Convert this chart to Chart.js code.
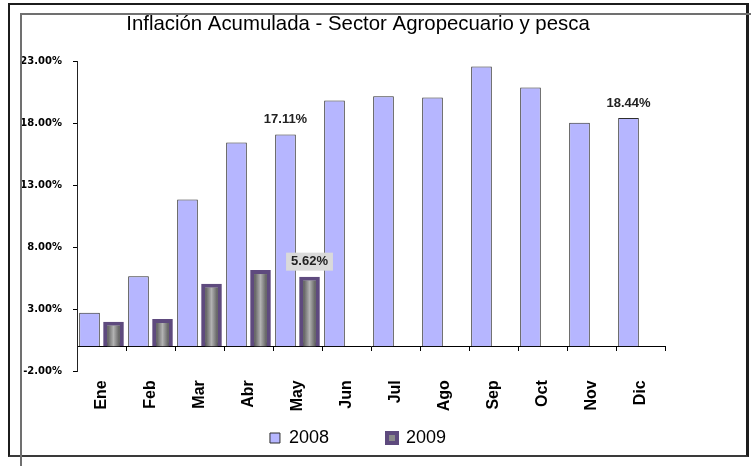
<!DOCTYPE html>
<html lang="es">
<head>
<meta charset="utf-8">
<title>Inflación Acumulada - Sector Agropecuario y pesca</title>
<script src="https://cdn.jsdelivr.net/npm/chart.js@4.4.1/dist/chart.umd.min.js"></script>
<style>
  html, body { margin: 0; padding: 0; background: #fff; }
  .base-graf { position: relative; width: 751px; height: 466px; overflow: hidden; }
  #graficaInflacion { position: absolute; left: 0; top: 0; }
  .marco { position: absolute; box-sizing: border-box; pointer-events: none; }
  .marco-ext { left: 8px; top: 3px; width: 741px; height: 454px; border: 2px solid #1c1c1c; border-right-width: 3px; border-bottom-color: #3a3a3a; }
  .marco-sup { left: 20px; top: 13px; width: 731px; height: 2px; background: #707070; }
  .marco-izq { left: 20px; top: 13px; width: 2px; height: 453px; background: #707070; }
</style>
</head>
<body>
<div class="base-graf">
  <canvas id="graficaInflacion" width="751" height="466"></canvas>
  <div class="marco marco-ext"></div>
  <div class="marco marco-sup"></div>
  <div class="marco marco-izq"></div>
</div>
<script>
// datos
const meses = ['Ene', 'Feb', 'Mar', 'Abr', 'May', 'Jun', 'Jul', 'Ago', 'Sep', 'Oct', 'Nov', 'Dic'];
const valores2008 = [2.70, 5.66, 11.85, 16.45, 17.11, 19.85, 20.20, 20.10, 22.60, 20.90, 18.06, 18.44];
const valores2009 = [1.98, 2.20, 5.05, 6.15, 5.62, null, null, null, null, null, null, null];
const ticksY = [-2, 3, 8, 13, 18, 23];
const etiquetas2008 = ['May', 'Dic'];
const etiquetas2009 = ['May'];

const grosor2009 = 4;

/* ETIQUETAS Y DEGRADADO */
const etiquetasValor = {
  id: 'etiquetasValor',
  afterDatasetsDraw(chart) {
    const ctx = chart.ctx;
    ctx.save();

    // relleno gris con degradado de las barras 2009
    chart.getDatasetMeta(1).data.forEach((barra, i) => {
      if (valores2009[i] == null) return;
      const izq = barra.x - barra.width / 2 + grosor2009;
      const der = barra.x + barra.width / 2 - grosor2009;
      const arriba = barra.y + grosor2009;
      const abajo = barra.base;
      const degr = ctx.createLinearGradient(izq, 0, der, 0);
      degr.addColorStop(0, '#5a5a5a');
      degr.addColorStop(0.5, '#b2b2b2');
      degr.addColorStop(1, '#5a5a5a');
      ctx.fillStyle = degr;
      ctx.fillRect(izq, arriba, der - izq, abajo - arriba);
    });

    ctx.font = 'bold 13px "Liberation Sans", Arial, sans-serif';
    ctx.textAlign = 'center';
    ctx.textBaseline = 'middle';

    const ponerEtiqueta = (serie, valores, mesesEtiq, conFondo) => {
      const meta = chart.getDatasetMeta(serie);
      mesesEtiq.forEach(mes => {
        const i = meses.indexOf(mes);
        const barra = meta.data[i];
        const texto = valores[i].toFixed(2) + '%';
        const y = barra.y - 15;
        if (conFondo) {
          const ancho = ctx.measureText(texto).width + 10;
          ctx.fillStyle = '#dadada';
          ctx.fillRect(barra.x - ancho / 2, y - 9, ancho, 18);
        }
        ctx.fillStyle = '#222';
        ctx.fillText(texto, barra.x, y);
      });
    };

    ponerEtiqueta(0, valores2008, etiquetas2008, false);
    ponerEtiqueta(1, valores2009, etiquetas2009, true);
    ctx.restore();
  }
};

const grafica = document.getElementById('graficaInflacion').getContext('2d');

new Chart(grafica, {
  type: 'bar',
  data: {
    labels: meses,
    datasets: [{
      label: '2008',
      data: valores2008,
      backgroundColor: '#b6b6ff',
      borderColor: '#2e2e2e',
      borderWidth: 1,
      borderSkipped: 'start'
    }, {
      label: '2009',
      data: valores2009,
      backgroundColor: '#8a8a8a',
      borderColor: '#5e4a7e',
      borderWidth: grosor2009,
      borderSkipped: false
    }]
  },
  options: {
    responsive: false,
    animation: false,
    events: [],
    layout: { padding: { left: 20, right: 55, top: 0, bottom: 9 } },
    datasets: {
      bar: { categoryPercentage: 0.98, barPercentage: 0.86 }
    },
    scales: {
      x: {
        position: { y: 0 },
        grid: { display: true, drawOnChartArea: false, offset: true, tickLength: 4, color: '#000' },
        border: { display: true, color: '#000', width: 1 },
        ticks: {
          autoSkip: false,
          minRotation: 90,
          maxRotation: 90,
          padding: 30,
          color: '#000',
          font: { family: '"Liberation Sans", Arial, sans-serif', size: 16, weight: 'bold' }
        }
      },
      y: {
        position: 'left',
        min: ticksY[0],
        max: ticksY[ticksY.length - 1],
        grid: { display: true, drawOnChartArea: false, tickLength: 4, color: '#000' },
        border: { display: true, color: '#222', width: 1 },
        ticks: {
          stepSize: ticksY[1] - ticksY[0],
          padding: 11,
          color: '#000',
          font: { family: '"DejaVu Sans", sans-serif', size: 10, weight: 'bold' },
          callback: v => v.toFixed(2) + '%'
        },
        afterFit: escala => { escala.width = 57; }
      },
      margenDer: {
        type: 'linear',
        position: 'right',
        grid: { display: false },
        border: { display: false },
        ticks: { display: false },
        afterFit: escala => { escala.width = 31; }
      }
    },
    plugins: {
      title: {
        display: true,
        text: 'Inflación Acumulada - Sector Agropecuario y pesca',
        color: '#000',
        font: { family: '"Liberation Sans", Arial, sans-serif', size: 20.4, weight: 'normal' },
        padding: { top: 12, bottom: 25 }
      },
      legend: {
        position: 'bottom',
        labels: {
          boxWidth: 10,
          boxHeight: 10,
          padding: 58,
          color: '#000',
          font: { family: '"Liberation Sans", Arial, sans-serif', size: 18 }
        }
      },
      tooltip: { enabled: false }
    }
  },
  plugins: [etiquetasValor]
});
</script>
</body>
</html>
